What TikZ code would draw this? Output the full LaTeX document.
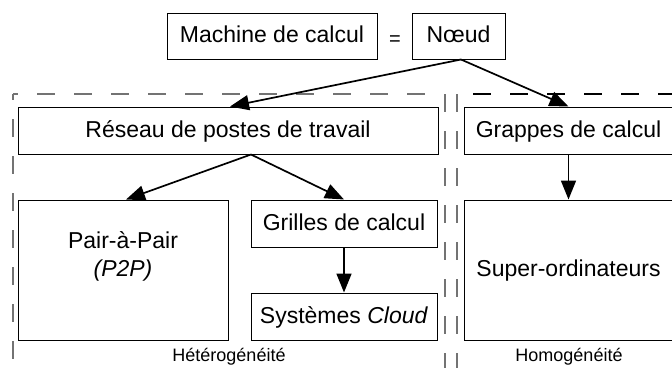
\documentclass[tikz,border=0pt]{standalone}
\usepackage{fontspec}
\setmainfont{Liberation Sans}
\usetikzlibrary{arrows.meta}

\begin{document}
\begin{tikzpicture}[x=1pt,y=-1pt,
  box/.style={draw=black, line width=1pt, fill=white, inner sep=0pt,
    font=\fontsize{23}{28}\selectfont, text height=16pt, text depth=3pt, align=center},
  arr/.style={-{Triangle[length=19pt,width=15pt]}, line width=1.7pt},
  zone/.style={draw=black!55, line width=1.2pt, dash pattern=on 18pt off 19pt},
  zonedark/.style={draw=black, line width=1.1pt, dash pattern=on 18pt off 19pt},
  lbl/.style={font=\fontsize{18}{20}\selectfont, anchor=base, inner sep=0pt}]
\clip (0,0) rectangle (672,367);
\fill[white] (0,0) rectangle (672,367);

% dashed frames of the two families
\draw[zone, dash phase=13pt] (13,94) -- (427,94);
\draw[zone, dash phase=12pt] (13,94) -- (13,380);
\draw[zone] (445,94) -- (445,380);
\draw[zone] (457,94) -- (457,380);
\draw[zonedark, dash phase=21pt] (457,94) -- (690,94);

% nodes
\node[box, minimum width=210pt, minimum height=46pt] (machine) at (272,36) {Machine de calcul};
\node[box, minimum width=93pt, minimum height=46pt] (noeud) at (458.5,36) {Nœud};
\node[font=\fontsize{20}{22}\selectfont, inner sep=0pt] (eq) at (395,41) {=};

\node[box, minimum width=420pt, minimum height=47pt] (reseau) at (228,130.5) {Réseau de postes de travail};
\node[box, minimum width=209pt, minimum height=47pt] (grappes) at (568.5,130.5) {Grappes de calcul};

\node[box, minimum width=210pt, minimum height=140pt] (pair) at (123,270) {Pair-à-Pair\\\textit{(P2P)}};
\node[box, minimum width=186pt, minimum height=47pt] (grilles) at (344,223.5) {Grilles de calcul};
\node[box, minimum width=186pt, minimum height=47pt] (cloud) at (344,316.5) {Systèmes \textit{Cloud}};
\node[box, minimum width=209pt, minimum height=140pt] (super) at (568.5,270) {Super-ordinateurs};

\node[lbl] (hetero) at (229,361) {Hétérogénéité};
\node[lbl] (homo) at (569,361) {Homogénéité};

% connectors
\draw[arr] ([xshift=2.5pt]noeud.south) -- ([xshift=2pt]reseau.north);
\draw[arr] ([xshift=2.5pt]noeud.south) -- (grappes.north);
\draw[arr] ([xshift=23pt]reseau.south) -- ([xshift=3pt]pair.north);
\draw[arr] ([xshift=23pt]reseau.south) -- (grilles.north);
\draw[arr] (grilles.south) -- (cloud.north);
\draw[arr] (grappes.south) -- (super.north);
\end{tikzpicture}
\end{document}
